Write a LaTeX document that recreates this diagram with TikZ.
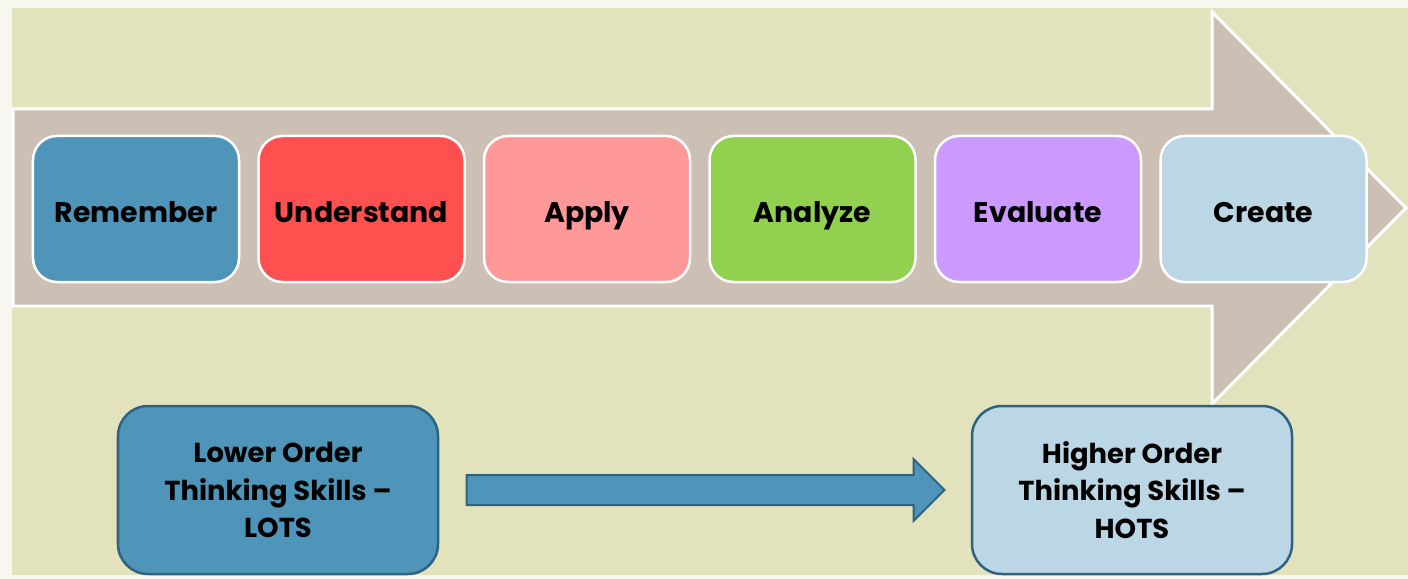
\documentclass[tikz,border=0pt]{standalone}
\usepackage{fontspec}
\setmainfont{Poppins}
\usetikzlibrary{positioning}
\usetikzlibrary{shapes.arrows}

\definecolor{pagebg}{HTML}{F7F7F0}
\definecolor{khaki}{HTML}{E2E2BD}
\definecolor{arrowgrey}{HTML}{CCBFB4}
\definecolor{levelblue}{HTML}{4F95BA}
\definecolor{levelred}{HTML}{FF5050}
\definecolor{levelpink}{HTML}{FF9999}
\definecolor{levelgreen}{HTML}{92D050}
\definecolor{levelviolet}{HTML}{CC99FF}
\definecolor{levelsky}{HTML}{BBD7E6}
\definecolor{edgeblue}{HTML}{2E6380}

\begin{document}
\begin{tikzpicture}[x=1bp,y=-1bp,
    basic/.style={rounded corners=24bp,text=black,inner sep=0pt,align=center},
    level/.style={basic,draw=white,line width=2.5bp,minimum width=206bp,minimum height=146bp,
        text height=26bp,text depth=0pt,font=\fontsize{28.5}{34}\selectfont\bfseries},
    order/.style={basic,draw=edgeblue,line width=2.5bp,minimum width=320bp,minimum height=168bp,
        rounded corners=30bp,font=\fontsize{27.5}{37.5}\selectfont\bfseries},
    shaft/.style={single arrow,draw=edgeblue,fill=levelblue,line width=2bp,inner xsep=0pt,inner ysep=14bp,
        minimum height=478bp,single arrow head extend=16bp},
]
        % background and the big arrow
        \fill[pagebg] (0,0) rectangle (1408,579);
        \fill[khaki] (12,8) rectangle (1408,575);
        \draw[white,line width=3bp,fill=arrowgrey,line join=miter]
            (13,109) -- (1212,109) -- (1212,12) -- (1406,208) -- (1212,404) -- (1212,306) -- (13,306) -- cycle;
        % the six levels
        \node[level,fill=levelblue] (remember) at (136,209) {Remember};
        \node[level,fill=levelred,right=17bp of remember] (understand) {Understand};
        \node[level,fill=levelpink,right=17bp of understand] (apply) {Apply};
        \node[level,fill=levelgreen,right=17bp of apply] (analyze) {Analyze};
        \node[level,fill=levelviolet,right=17bp of analyze] (evaluate) {Evaluate};
        \node[level,fill=levelsky,right=17bp of evaluate] (create) {Create};
        % lower and higher order
        \node[order,fill=levelblue] (lots) at (278,490) {Lower Order\\Thinking Skills --\\LOTS};
        \node[order,fill=levelsky] (hots) at (1132,490) {Higher Order\\Thinking Skills --\\HOTS};
            \path (lots) -- node[shaft,xshift=-7bp] (lift) {} (hots);
    \end{tikzpicture}
\end{document}
